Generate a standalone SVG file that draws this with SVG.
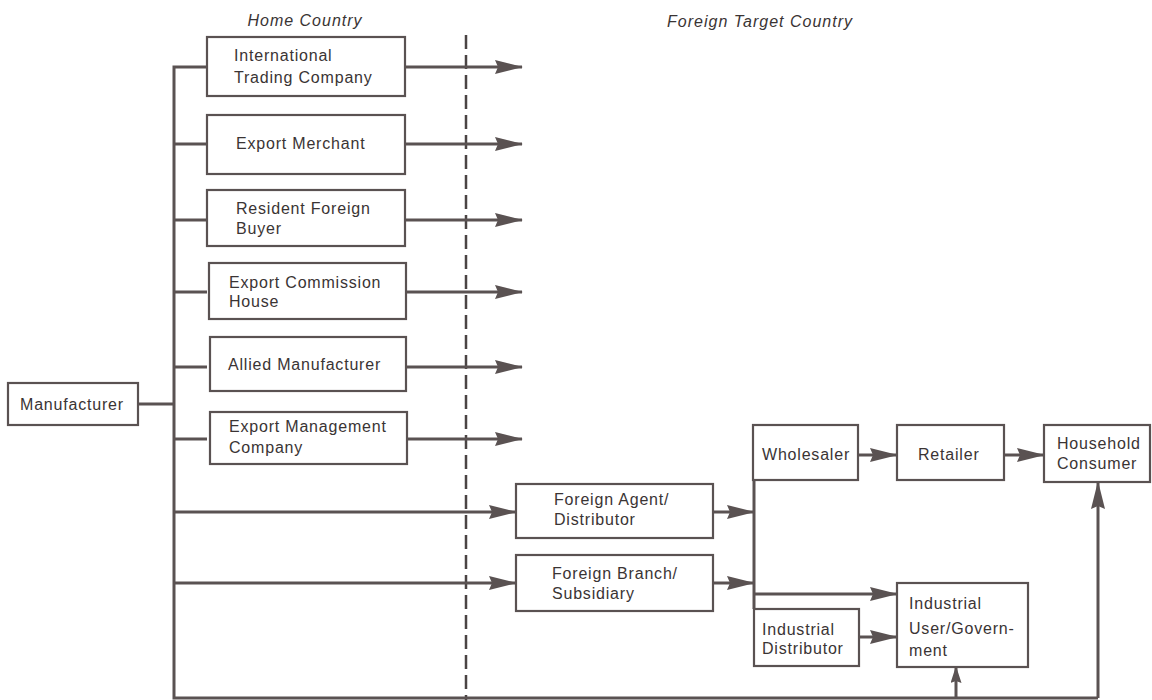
<svg xmlns="http://www.w3.org/2000/svg" width="1152" height="700" viewBox="0 0 1152 700">
<defs>
<style>
.box{fill:#fff;stroke:#5a5252;stroke-width:2.2}
.ln{fill:none;stroke:#5a5252;stroke-width:3}
.arr{fill:none;stroke:#5a5252;stroke-width:3;marker-end:url(#ah)}
.arrs{fill:none;stroke:#5a5252;stroke-width:3;marker-end:url(#ahs)}
.t{font-family:"Liberation Sans",Arial,sans-serif;font-size:16px;fill:#3a3434;letter-spacing:0.8px}
.h{font-family:"Liberation Sans",Arial,sans-serif;font-size:16px;font-style:italic;fill:#3a3434;letter-spacing:1px;text-anchor:middle}
.dash{fill:none;stroke:#4a4444;stroke-width:2.5;stroke-dasharray:14 6}
</style>
<marker id="ah" markerUnits="userSpaceOnUse" viewBox="0 0 28 14" refX="27" refY="7" markerWidth="28" markerHeight="14" orient="auto">
<path d="M0,0 L28,7 L0,14 L3,7 z" fill="#5a5252"/>
</marker>
<marker id="ahs" markerUnits="userSpaceOnUse" viewBox="0 0 17 11" refX="16" refY="5.5" markerWidth="17" markerHeight="11" orient="auto">
<path d="M0,0 L17,5.5 L0,11 L2,5.5 z" fill="#5a5252"/>
</marker>
</defs>
<rect width="1152" height="700" fill="#fff"/>
<text class="h" x="305" y="26">Home Country</text>
<text class="h" x="760" y="27">Foreign Target Country</text>
<line class="dash" x1="466" y1="35" x2="466" y2="700"/>
<g id="connectors">
<polyline class="ln" points="207,67 174,67 174,698 1098,698"/>
<line class="ln" x1="138" y1="404" x2="174" y2="404"/>
<line class="ln" x1="174" y1="144" x2="207" y2="144"/>
<line class="ln" x1="174" y1="220" x2="207" y2="220"/>
<line class="ln" x1="174" y1="292" x2="207" y2="292"/>
<line class="ln" x1="174" y1="367" x2="207" y2="367"/>
<line class="ln" x1="174" y1="439" x2="207" y2="439"/>
<line class="arr" x1="405" y1="67" x2="522" y2="67"/>
<line class="arr" x1="405" y1="144" x2="522" y2="144"/>
<line class="arr" x1="405" y1="220" x2="522" y2="220"/>
<line class="arr" x1="405" y1="292" x2="522" y2="292"/>
<line class="arr" x1="405" y1="367" x2="522" y2="367"/>
<line class="arr" x1="405" y1="439" x2="522" y2="439"/>
<line class="arr" x1="174" y1="512" x2="516" y2="512"/>
<line class="arr" x1="174" y1="583" x2="516" y2="583"/>
<line class="arr" x1="713" y1="512" x2="754" y2="512"/>
<line class="arr" x1="713" y1="583" x2="754" y2="583"/>
<line class="ln" x1="754" y1="480" x2="754" y2="609"/>
<line class="arr" x1="754" y1="594" x2="897" y2="594"/>
<line class="arr" x1="858" y1="455" x2="897" y2="455"/>
<line class="arr" x1="1004" y1="455" x2="1044" y2="455"/>
<line class="arr" x1="859" y1="637" x2="897" y2="637"/>
<line class="arrs" x1="956" y1="698" x2="956" y2="667"/>
<line class="arr" x1="1098" y1="698" x2="1098" y2="482"/>
</g>
<g id="manufacturer"><rect class="box" x="8" y="383" width="130" height="42"/><text class="t" x="20" y="410">Manufacturer</text></g>
<g id="itc"><rect class="box" x="207" y="37" width="198" height="59"/><text class="t" x="234" y="61">International</text><text class="t" x="234" y="83">Trading Company</text></g>
<g id="export-merchant"><rect class="box" x="207" y="115" width="198" height="59"/><text class="t" x="236" y="149">Export Merchant</text></g>
<g id="resident-buyer"><rect class="box" x="207" y="190" width="198" height="56"/><text class="t" x="236" y="214">Resident Foreign</text><text class="t" x="236" y="234">Buyer</text></g>
<g id="commission-house"><rect class="box" x="209" y="263" width="197" height="56"/><text class="t" x="229" y="288">Export Commission</text><text class="t" x="229" y="307">House</text></g>
<g id="allied"><rect class="box" x="210" y="337" width="196" height="54"/><text class="t" x="228" y="370">Allied Manufacturer</text></g>
<g id="emc"><rect class="box" x="210" y="412" width="197" height="52"/><text class="t" x="229" y="432">Export Management</text><text class="t" x="229" y="453">Company</text></g>
<g id="foreign-agent"><rect class="box" x="516" y="484" width="197" height="54"/><text class="t" x="554" y="505">Foreign Agent/</text><text class="t" x="554" y="525">Distributor</text></g>
<g id="foreign-branch"><rect class="box" x="516" y="555" width="197" height="56"/><text class="t" x="552" y="579">Foreign Branch/</text><text class="t" x="552" y="599">Subsidiary</text></g>
<g id="wholesaler"><rect class="box" x="753" y="425" width="105" height="55"/><text class="t" x="762" y="460">Wholesaler</text></g>
<g id="retailer"><rect class="box" x="897" y="425" width="107" height="55"/><text class="t" x="918" y="460">Retailer</text></g>
<g id="household"><rect class="box" x="1044" y="425" width="106" height="57"/><text class="t" x="1057" y="449">Household</text><text class="t" x="1057" y="469">Consumer</text></g>
<g id="industrial-distributor"><rect class="box" x="754" y="609" width="105" height="57"/><text class="t" x="762" y="635">Industrial</text><text class="t" x="762" y="654">Distributor</text></g>
<g id="industrial-user"><rect class="box" x="897" y="583" width="131" height="84"/><text class="t" x="909" y="609">Industrial</text><text class="t" x="909" y="634">User/Govern-</text><text class="t" x="909" y="656">ment</text></g>
</svg>
